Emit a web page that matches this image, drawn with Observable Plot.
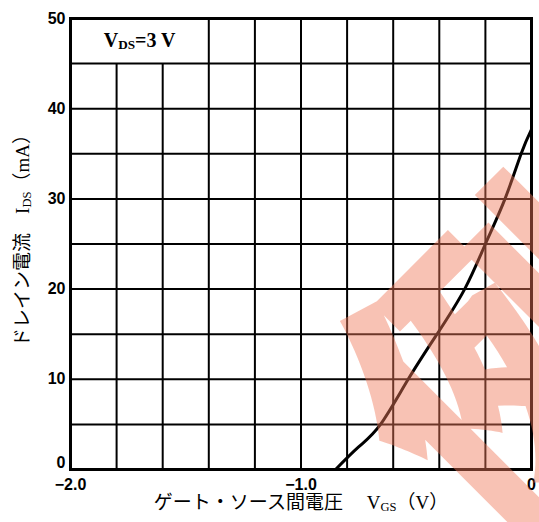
<!DOCTYPE html>
<html><head><meta charset="utf-8">
<script src="https://cdn.jsdelivr.net/npm/d3@7"></script>
<script src="https://cdn.jsdelivr.net/npm/@observablehq/plot@0.6"></script>
<style>body{margin:0;background:#fff}</style>
</head><body><div id="chart"></div>
<script>
// Transfer characteristic: gate-source voltage (V) vs drain current (mA)
const vgs = [-0.85, -0.75, -0.655, -0.535, -0.41, -0.29, -0.2, -0.115, -0.045, 0];
const ids = [0, 2.5, 5, 10, 15, 20, 25, 30, 35, 37.7];

const gridX = [-2.0, -1.8, -1.6, -1.4, -1.2, -1.0, -0.8, -0.6, -0.4, -0.2, 0];
const gridY = [0, 5, 10, 15, 20, 25, 30, 35, 40, 45, 50];
const boxCols = [-1.8, -1.6];          // grid lines interrupted by the condition box
const xTicks = [-2.0, -1.0, 0];
const xTickLabels = ["−2.0", "−1.0", "0"];
const yTicks = [10, 20, 30, 40, 50];
const yZero = [0];

const condition = ["VDS=3 V"];
const conditionPos = {x: -1.7, y: 47.5};
const xLabel = ["ゲート・ソース間電圧　 VGS（V）"];
const yLabel = ["ドレイン電流　IDS（mA）"];
const stamp = ["例"];
const stampPos = {x: -0.06, y: 11.0};

const curve = vgs.map((v, i) => ({v, i: ids[i]}));
const serifJP = "'Liberation Serif', 'Noto Sans CJK JP', serif";
const tickFont = {fontSize: 16, fontWeight: "bold", fontFamily: "'Liberation Sans', Arial, sans-serif", fill: "#000"};

const chart = Plot.plot({
  width: 539, height: 522,
  marginTop: 18, marginRight: 8, marginBottom: 53, marginLeft: 70,
  x: {domain: [-2, 0]},
  y: {domain: [0, 50]},
  style: {background: "white", color: "#000"},
  marks: [
    Plot.ruleY(gridY, {y: d => d, stroke: "#000", strokeWidth: 2}),
    Plot.ruleX(gridX, {x: d => d, y1: 0, y2: d => boxCols.includes(d) ? 45 : 50, stroke: "#000", strokeWidth: 2}),
    Plot.frame({stroke: "#000", strokeWidth: 3}),
    Plot.line(curve, {x: "v", y: "i", curve: "natural", stroke: "#000", strokeWidth: 3}),
    Plot.axisX(xTicks, {tickSize: 0, tickPadding: 9, label: null,
      tickFormat: d => xTickLabels[xTicks.indexOf(d)], ...tickFont}),
    Plot.axisY(yTicks, {tickSize: 0, tickPadding: 5, label: null, ...tickFont}),
    Plot.axisY(yZero, {tickSize: 0, tickPadding: 5, label: null, dy: -7, ...tickFont}),
    Plot.text(condition, {x: conditionPos.x, y: conditionPos.y, text: d => d, fontSize: 20, fontWeight: "bold", fontFamily: serifJP, fill: "#000"}),
    Plot.text(xLabel, {frameAnchor: "bottom", dy: 39, text: d => d, fontSize: 19, fontFamily: serifJP, fill: "#000"}),
    Plot.text(yLabel, {frameAnchor: "left", textAnchor: "middle", dx: -48, dy: -8, rotate: -90, text: d => d, fontSize: 19, fontFamily: serifJP, fill: "#000"}),
    Plot.text(stamp, {x: stampPos.x, y: stampPos.y, text: d => d, rotate: -45, fontSize: 300, fontWeight: 900,
      fontFamily: "'Noto Sans CJK JP', sans-serif", fill: "#f07858", fillOpacity: 0.45})
  ]
});

// subscripts
function rich(svg, plain, parts, shift) {
  d3.select(svg).selectAll("text").filter(function () { return this.textContent === plain; }).each(function () {
    const t = d3.select(this);
    t.text(null);
    let down = false;
    for (const [s, sub] of parts) {
      const ts = t.append("tspan").text(s);
      if (sub) { ts.attr("font-size", "0.66em").attr("dy", shift); down = true; }
      else if (down) { ts.attr("dy", -shift); down = false; }
    }
  });
}
rich(chart, condition[0], [["V"], ["DS", true], ["=3 V"]], 2);
rich(chart, xLabel[0], [["ゲート・ソース間電圧　 V"], ["GS", true], ["（V）"]], 2);
rich(chart, yLabel[0], [["ドレイン電流　I"], ["DS", true], ["（mA）"]], 2);

document.getElementById("chart").append(chart);
</script>
</body></html>
